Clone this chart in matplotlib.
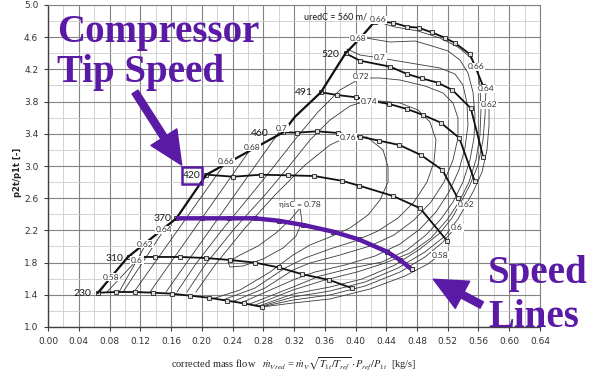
import numpy as np
import matplotlib
matplotlib.use('Agg')
import matplotlib.pyplot as plt
from matplotlib.patches import Rectangle
from matplotlib.ticker import MultipleLocator, FormatStrFormatter

plt.rcParams['mathtext.fontset'] = 'stix'

PURPLE = '#5b1aa6'

# ---- speed lines (corrected tip speed in m/s) ----
spd230_x = [0.065, 0.089, 0.113, 0.137, 0.161, 0.185, 0.209, 0.233, 0.255, 0.279]
spd230_y = [1.426, 1.435, 1.435, 1.426, 1.414, 1.389, 1.364, 1.327, 1.294, 1.248]
spd310_x = [0.105, 0.139, 0.172, 0.205, 0.237, 0.269, 0.300, 0.331, 0.366, 0.396]
spd310_y = [1.870, 1.870, 1.870, 1.857, 1.832, 1.800, 1.740, 1.655, 1.584, 1.480]
spd370_x = [0.167, 0.200, 0.235, 0.269, 0.300, 0.332, 0.371, 0.404, 0.441, 0.458, 0.473]
spd370_y = [2.350, 2.350, 2.350, 2.350, 2.320, 2.267, 2.184, 2.089, 1.935, 1.832, 1.717]
spd420_x = [0.206, 0.241, 0.277, 0.312, 0.346, 0.382, 0.405, 0.449, 0.484, 0.519]
spd420_y = [2.892, 2.867, 2.892, 2.884, 2.876, 2.817, 2.755, 2.627, 2.475, 2.072]
spd460_x = [0.306, 0.324, 0.350, 0.377, 0.406, 0.431, 0.457, 0.485, 0.513, 0.533]
spd460_y = [3.419, 3.414, 3.431, 3.410, 3.364, 3.314, 3.261, 3.137, 2.950, 2.602]
spd491_x = [0.355, 0.376, 0.401, 0.418, 0.444, 0.467, 0.488, 0.511, 0.535, 0.555]
spd491_y = [3.916, 3.882, 3.853, 3.815, 3.770, 3.708, 3.634, 3.538, 3.348, 2.814]
spd520_x = [0.387, 0.406, 0.445, 0.467, 0.486, 0.507, 0.526, 0.550, 0.566]
spd520_y = [4.400, 4.308, 4.234, 4.143, 4.089, 4.035, 3.944, 3.717, 3.116]
spd560_x = [0.425, 0.449, 0.467, 0.482, 0.499, 0.516, 0.530, 0.549, 0.566]
spd560_y = [4.795, 4.780, 4.730, 4.718, 4.661, 4.594, 4.524, 4.388, 3.994]

# surge line through the first point of every speed line
surge_x = [0.065, 0.104, 0.167, 0.206, 0.306, 0.321, 0.355, 0.387, 0.406, 0.425]
surge_y = [1.426, 1.870, 2.350, 2.892, 3.419, 3.609, 3.916, 4.400, 4.586, 4.795]

speed_names = ['230', '310', '370', '420', '460', '491', '520']
speed_lbl_x = [0.045, 0.086, 0.149, 0.187, 0.276, 0.333, 0.367]
speed_lbl_y = [1.422, 1.857, 2.354, 2.882, 3.398, 3.907, 4.391]

# ---- isentropic efficiency contours ----
# left branches between the 230 line and the surge line
eta58_leg_x = [0.0676, 0.0820]
eta58_leg_y = [1.435, 1.621]
eta60_leg_x = [0.0767, 0.1158]
eta60_leg_y = [1.435, 1.832]
eta62_leg_x = [0.0924, 0.1275]
eta62_leg_y = [1.435, 2.031]
eta64_leg_x = [0.0976, 0.1509]
eta64_leg_y = [1.435, 2.205]
eta66_leg_x = [0.1119, 0.2315]
eta66_leg_y = [1.435, 3.050]
eta68_leg_x = [0.1327, 0.2654]
eta68_leg_y = [1.435, 3.236]
eta70_leg_x = [0.1535, 0.3044]
eta70_leg_y = [1.435, 3.472]

# upper / choke side branches
eta58_x = [0.2784, 0.3187, 0.3668, 0.4189, 0.4644, 0.4943, 0.5112]
eta58_y = [1.248, 1.298, 1.348, 1.472, 1.634, 1.783, 1.907]
eta60_x = [0.2771, 0.3187, 0.3668, 0.4124, 0.4579, 0.4904, 0.5138, 0.5294]
eta60_y = [1.250, 1.335, 1.398, 1.509, 1.683, 1.870, 2.056, 2.230]
eta62_x = [0.2758, 0.3187, 0.3668, 0.4124, 0.4553, 0.4904, 0.5164, 0.5333, 0.5437,
           0.5541, 0.5646, 0.5710, 0.5737, 0.5737]
eta62_y = [1.253, 1.373, 1.447, 1.559, 1.733, 1.932, 2.130, 2.342, 2.516,
           2.702, 2.925, 3.199, 3.509, 3.758]
eta64_x = [0.2732, 0.3187, 0.3668, 0.4085, 0.4514, 0.4839, 0.5099, 0.5255, 0.5372,
           0.5489, 0.5593, 0.5659, 0.5685, 0.5697]
eta64_y = [1.257, 1.410, 1.497, 1.596, 1.770, 1.969, 2.168, 2.354, 2.553,
           2.764, 3.012, 3.323, 3.634, 3.956]
eta66_x = [0.4293, 0.4514, 0.4813, 0.5099, 0.5333, 0.5489, 0.5580, 0.5619, 0.5632, 0.5619,
           0.5567, 0.5476, 0.5346, 0.5190, 0.4982, 0.4709, 0.4384, 0.4019, 0.3603, 0.3187, 0.2680]
eta66_y = [4.789, 4.727, 4.677, 4.590, 4.478, 4.354, 4.230, 4.006, 3.696, 3.385,
           3.074, 2.801, 2.553, 2.329, 2.106, 1.919, 1.795, 1.683, 1.584, 1.460, 1.267]
eta68_x = [0.4033, 0.4137, 0.4449, 0.4774, 0.4995, 0.5203, 0.5359, 0.5463, 0.5528, 0.5554, 0.5541,
           0.5489, 0.5398, 0.5268, 0.5112, 0.4917, 0.4670, 0.4345, 0.3954, 0.3538, 0.3187, 0.2602]
eta68_y = [4.590, 4.590, 4.540, 4.553, 4.491, 4.429, 4.317, 4.155, 3.919, 3.634, 3.348,
           3.074, 2.801, 2.553, 2.342, 2.143, 1.957, 1.807, 1.733, 1.634, 1.497, 1.277]
eta70_x = [0.3889, 0.4058, 0.4319, 0.4709, 0.5099, 0.5294, 0.5398, 0.5450, 0.5463, 0.5424,
           0.5346, 0.5216, 0.5047, 0.4839, 0.4579, 0.4254, 0.3863, 0.3473, 0.3187, 0.2498]
eta70_y = [4.453, 4.379, 4.342, 4.280, 4.217, 4.143, 4.006, 3.783, 3.509, 3.224,
           2.950, 2.677, 2.429, 2.217, 2.031, 1.882, 1.770, 1.683, 1.584, 1.294]
eta72_x = [0.1678, 0.1912, 0.2263, 0.2628, 0.2953, 0.3239, 0.3512, 0.3798, 0.4072, 0.4319,
           0.4579, 0.4904, 0.5138, 0.5268, 0.5333, 0.5333, 0.5268, 0.5151, 0.4982, 0.4761,
           0.4501, 0.4189, 0.3798, 0.3408, 0.3187, 0.2823, 0.2393]
eta72_y = [1.435, 1.770, 2.205, 2.627, 3.012, 3.360, 3.671, 3.944, 4.093, 4.093,
           4.068, 3.994, 3.907, 3.783, 3.596, 3.348, 3.074, 2.801, 2.553, 2.329,
           2.143, 2.006, 1.894, 1.795, 1.708, 1.484, 1.311]
eta74_x = [0.1808, 0.2042, 0.2432, 0.2823, 0.3148, 0.3408, 0.3668, 0.3928, 0.4176, 0.4579,
           0.4813, 0.4969, 0.5047, 0.5021, 0.4930, 0.4761, 0.4553, 0.4293, 0.3993, 0.3668,
           0.3343, 0.3083, 0.2693, 0.2263]
eta74_y = [1.435, 1.770, 2.230, 2.640, 3.012, 3.323, 3.571, 3.745, 3.820, 3.783,
           3.696, 3.547, 3.323, 3.050, 2.801, 2.553, 2.354, 2.193, 2.068, 1.969,
           1.857, 1.733, 1.484, 1.332]
eta76_x = [0.1925, 0.2172, 0.2563, 0.2953, 0.3343, 0.3668, 0.3889, 0.4150, 0.4358, 0.4423,
           0.4423, 0.4319, 0.4163, 0.3928, 0.3668, 0.3408, 0.3187, 0.2888, 0.2498, 0.2133]
eta76_y = [1.435, 1.770, 2.230, 2.640, 3.012, 3.261, 3.360, 3.360, 3.199, 2.988,
           2.801, 2.578, 2.391, 2.230, 2.118, 2.019, 1.894, 1.683, 1.460, 1.348]
eta78_x = [0.3278, 0.3304, 0.3226, 0.3057, 0.2797, 0.2537, 0.2367, 0.2341, 0.2498,
           0.2732, 0.2966, 0.3161, 0.3278]
eta78_y = [2.478, 2.304, 2.130, 1.981, 1.845, 1.758, 1.745, 1.807, 1.894,
           2.006, 2.168, 2.342, 2.478]

eta_lbl_text = ['0.58', '0.6', '0.62', '0.64', '0.66', '0.68', '0.7',
                '0.66', '0.68', '0.7', '0.72', '0.74', '0.76',
                '0.66', '0.64', '0.62', '0.62', '0.6', '0.58']
eta_lbl_x = [0.0820, 0.1158, 0.1262, 0.1509, 0.2315, 0.2654, 0.3044,
             0.4293, 0.4033, 0.4319, 0.4072, 0.4176, 0.3902,
             0.5567, 0.5697, 0.5737, 0.5437, 0.5320, 0.5099]
eta_lbl_y = [1.621, 1.832, 2.031, 2.205, 3.050, 3.236, 3.472,
             4.814, 4.590, 4.354, 4.106, 3.807, 3.360,
             4.230, 3.957, 3.758, 2.516, 2.230, 1.894]

fig = plt.figure(figsize=(5.95, 3.77), dpi=100)
ax = fig.add_axes([48 / 595, 50 / 377, 492 / 595, 322 / 377])
ax.set_xlim(0, 0.64)
ax.set_ylim(1.0, 5.0)
ax.xaxis.set_major_locator(MultipleLocator(0.04))
ax.xaxis.set_minor_locator(MultipleLocator(0.02))
ax.set_yticks(np.arange(1.0, 5.01, 0.4))
ax.yaxis.set_minor_locator(MultipleLocator(0.2))
ax.xaxis.set_major_formatter(FormatStrFormatter('%.2f'))
ax.yaxis.set_major_formatter(FormatStrFormatter('%.1f'))
ax.grid(which='major', color='#828282', lw=0.8)
ax.grid(which='minor', color='#cccccc', lw=0.6)
ax.set_axisbelow(True)
ax.tick_params(which='minor', length=0)
ax.tick_params(which='major', length=3, width=0.8, color='#404040',
               labelsize=6.5, labelcolor='#333333', pad=4)
for s in ['top', 'right']:
    ax.spines[s].set_color('#828282')
    ax.spines[s].set_linewidth(0.8)
for s in ['left', 'bottom']:
    ax.spines[s].set_color('#404040')
    ax.spines[s].set_linewidth(1.0)

# efficiency contours (thin)
ckw = dict(color='#3a3a3a', lw=0.6, zorder=2)
for lx, ly in [(eta58_leg_x, eta58_leg_y), (eta60_leg_x, eta60_leg_y), (eta62_leg_x, eta62_leg_y),
               (eta64_leg_x, eta64_leg_y), (eta66_leg_x, eta66_leg_y), (eta68_leg_x, eta68_leg_y),
               (eta70_leg_x, eta70_leg_y)]:
    ax.plot(lx, ly, **ckw)
for cx, cy in [(eta58_x, eta58_y), (eta60_x, eta60_y), (eta62_x, eta62_y), (eta64_x, eta64_y),
               (eta66_x, eta66_y), (eta68_x, eta68_y), (eta70_x, eta70_y), (eta72_x, eta72_y),
               (eta74_x, eta74_y), (eta76_x, eta76_y), (eta78_x, eta78_y)]:
    ax.plot(cx, cy, **ckw)

# speed lines
skw = dict(color='#111111', lw=1.3, marker='s', ms=2.6, mfc='#dddddd', mec='#222222',
           mew=0.6, zorder=3)
for sx, sy in [(spd230_x, spd230_y), (spd310_x, spd310_y), (spd370_x, spd370_y),
               (spd420_x, spd420_y), (spd460_x, spd460_y), (spd491_x, spd491_y),
               (spd520_x, spd520_y), (spd560_x, spd560_y)]:
    ax.plot(sx, sy, **skw)
ax.plot(surge_x, surge_y, color='#111111', lw=1.6, zorder=3)
ax.plot(spd370_x, spd370_y, color=PURPLE, lw=3.2, solid_capstyle='butt', zorder=4)
ax.plot(spd370_x[-1], spd370_y[-1], 's', ms=2.6, mfc='#dddddd', mec='#222222', mew=0.6, zorder=4)

# labels
lkw = dict(fontsize=6, color='#333333', ha='center', va='center', family=['Lato', 'DejaVu Sans'],
           bbox=dict(boxstyle='square,pad=0.08', fc='white', ec='none'), zorder=5)
for t, x, y in zip(eta_lbl_text, eta_lbl_x, eta_lbl_y):
    ax.text(x, y, t, **lkw)
ax.text(0.3278, 2.516, '\u03b7isC = 0.78', **lkw)
for t, x, y in zip(speed_names, speed_lbl_x, speed_lbl_y):
    ax.text(x, y, t, fontsize=7.5, color='#1a1a1a', ha='center', va='center',
            family=['Lato', 'DejaVu Sans'], zorder=5)
ax.text(0.4150, 4.851, 'uredC = 560 m/', fontsize=6.5, color='#1a1a1a', ha='right', va='center',
        family=['Lato', 'DejaVu Sans'], zorder=5)

# highlight box around 420 and arrows
ax.add_patch(Rectangle((0.1739, 2.773), 0.0268, 0.218, fill=False, ec=PURPLE, lw=1.8, zorder=6))
arr = dict(arrowstyle='simple,head_length=1.4,head_width=1.3,tail_width=0.3',
           mutation_scale=17, color=PURPLE, shrinkA=0, shrinkB=0)
ax.annotate('', xy=(0.1739, 3.012), xytext=(0.1132, 3.919), arrowprops=arr, zorder=6)
ax.annotate('', xy=(0.5012, 1.593), xytext=(0.5642, 1.273), arrowprops=arr, zorder=6,
            annotation_clip=False)

tkw = dict(fontsize=28, color=PURPLE, weight='bold', family='Liberation Serif', va='baseline')
fig.text(57 / 595, 1 - 42 / 377, 'Compressor', **tkw)
fig.text(57 / 595, 1 - 82 / 377, 'Tip Speed', **tkw)
fig.text(488 / 595, 1 - 283 / 377, 'Speed', **tkw)
fig.text(488 / 595, 1 - 327 / 377, 'Lines', **tkw)

# axis titles
fig.text(18 / 595, 1 - 172 / 377, 'p2t/p1t [-]', rotation=90, fontsize=6, weight='bold',
         ha='center', va='center', color='#222222')
fig.text(294 / 595, 1 - 364 / 377,
         r'corrected mass flow   $\dot{m}_{Vred}$ = $\dot{m}_V\sqrt{T_{1t}/T_{ref}}\cdot P_{ref}/P_{1t}$  [kg/s]',
         fontsize=7.5, family='Liberation Serif', ha='center', va='center', color='#222222')

fig.savefig('out.png', dpi=100)
